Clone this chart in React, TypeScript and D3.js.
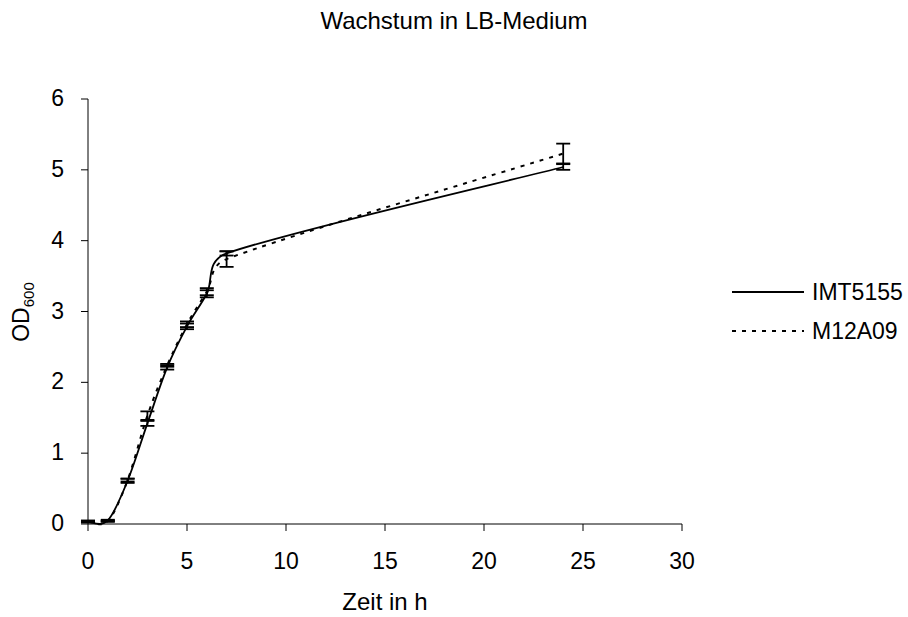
import React from "react";
import * as d3 from "d3";

const hours = [0, 1, 2, 3, 4, 5, 6, 7, 24];
const imtValues = [0.03, 0.05, 0.61, 1.42, 2.21, 2.79, 3.25, 3.82, 5.04];
const imtErrors = [0.01, 0.01, 0.03, 0.035, 0.03, 0.04, 0.05, 0.03, 0.04];
const m12Values = [0.04, 0.04, 0.62, 1.53, 2.24, 2.82, 3.28, 3.74, 5.23];
const m12Errors = [0.01, 0.01, 0.02, 0.06, 0.02, 0.04, 0.05, 0.11, 0.14];
const xTicks = [0, 5, 10, 15, 20, 25, 30];
const yTicks = [0, 1, 2, 3, 4, 5, 6];
const seriesNames = ["IMT5155", "M12A09"];

const W = 908;
const H = 617;
const left = 88;
const right = 682;
const top = 99;
const bottom = 524;

type P = [number, number];

// Excel-like smoothed line (Bezier with limited control-point lengths)
function excelSmooth(pts: P[]): string {
  const p = d3.path();
  if (!pts.length) return "";
  p.moveTo(pts[0][0], pts[0][1]);
  const dist = (a: P, b: P) => Math.hypot(b[0] - a[0], b[1] - a[1]);
  for (let i = 0; i < pts.length - 1; i++) {
    const p0 = pts[Math.max(0, i - 1)];
    const p1 = pts[i];
    const p2 = pts[i + 1];
    const p3 = pts[Math.min(pts.length - 1, i + 2)];
    const d02 = dist(p0, p2);
    const d12 = dist(p1, p2);
    const d13 = dist(p1, p3);
    let f1 = 1 / 6;
    let f2 = 1 / 6;
    if (d02 / 6 >= d12 / 2 && d02 > 0) f1 = d12 / d02 / 2;
    if (d13 / 6 >= d12 / 2 && d13 > 0) f2 = d12 / d13 / 2;
    const c1: P = [p1[0] + (p2[0] - p0[0]) * f1, p1[1] + (p2[1] - p0[1]) * f1];
    const c2: P = [p2[0] - (p3[0] - p1[0]) * f2, p2[1] - (p3[1] - p1[1]) * f2];
    p.bezierCurveTo(c1[0], c1[1], c2[0], c2[1], p2[0], p2[1]);
  }
  return p.toString();
}

export default function App() {
  const x = d3.scaleLinear().domain([0, 30]).range([left, right]);
  const y = d3.scaleLinear().domain([0, 6]).range([bottom, top]);

  const series = [
    { name: seriesNames[0], values: imtValues, errors: imtErrors, dash: undefined as string | undefined },
    { name: seriesNames[1], values: m12Values, errors: m12Errors, dash: "4,6" },
  ];
  const font = "'Liberation Sans', Arial, sans-serif";
  const cap = 7;
  const fs = 23;

  return (
    <svg
      width={W}
      height={H}
      style={{ position: "absolute", left: 0, top: 0, background: "#fff" }}
      fontFamily={font}
    >
      <rect x={0} y={0} width={W} height={H} fill="#fff" />
      <text x={454} y={29} textAnchor="middle" fontSize={24}>
        Wachstum in LB-Medium
      </text>
      <line x1={left} x2={left} y1={top} y2={bottom} stroke="#000" strokeWidth={1} />
      <line x1={left} x2={right} y1={bottom} y2={bottom} stroke="#000" strokeWidth={1} />
      {yTicks.map((t) => (
        <g key={"y" + t}>
          <line x1={left - 7} x2={left} y1={y(t)} y2={y(t)} stroke="#000" />
          <text x={64} y={y(t) + 7} textAnchor="end" fontSize={fs}>
            {t}
          </text>
        </g>
      ))}
      {xTicks.map((t) => (
        <g key={"x" + t}>
          <line x1={x(t)} x2={x(t)} y1={bottom} y2={bottom + 7} stroke="#000" />
          <text x={x(t)} y={569} textAnchor="middle" fontSize={fs}>
            {t}
          </text>
        </g>
      ))}
      <text x={385} y={610} textAnchor="middle" fontSize={24}>
        Zeit in h
      </text>
      <text transform="translate(29,312) rotate(-90)" textAnchor="middle" fontSize={fs}>
        OD<tspan fontSize={15} dy={5}>600</tspan>
      </text>
      {series.map((s) => {
        const pts: P[] = s.values.map((v, i) => [x(hours[i]), y(v)]);
        return (
          <g key={s.name}>
            <path
              d={excelSmooth(pts)}
              fill="none"
              stroke="#000"
              strokeWidth={s.dash ? 2 : 1.8}
              strokeDasharray={s.dash}
            />
            {s.values.map((v, i) => (
              <g key={i} stroke="#000" strokeWidth={1.8}>
                <line x1={x(hours[i])} x2={x(hours[i])} y1={y(v - s.errors[i])} y2={y(v + s.errors[i])} />
                <line x1={x(hours[i]) - cap} x2={x(hours[i]) + cap} y1={y(v - s.errors[i])} y2={y(v - s.errors[i])} />
                <line x1={x(hours[i]) - cap} x2={x(hours[i]) + cap} y1={y(v + s.errors[i])} y2={y(v + s.errors[i])} />
              </g>
            ))}
          </g>
        );
      })}
      {series.map((s, i) => (
        <g key={"lg" + s.name}>
          <line
            x1={732}
            x2={804}
            y1={292 + i * 39}
            y2={292 + i * 39}
            stroke="#000"
            strokeWidth={s.dash ? 2 : 1.8}
            strokeDasharray={s.dash}
          />
          <text x={812} y={300 + i * 39} fontSize={fs}>
            {s.name}
          </text>
        </g>
      ))}
    </svg>
  );
}
